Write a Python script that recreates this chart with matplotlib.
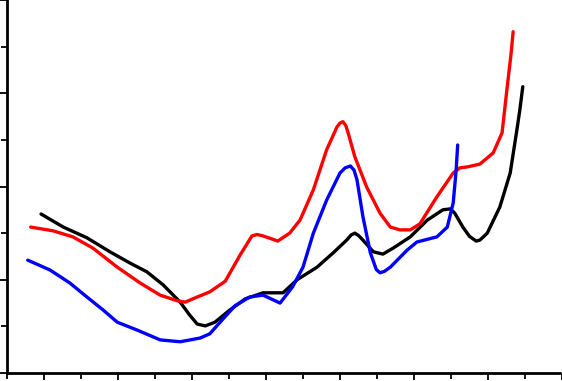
import numpy as np
import matplotlib
matplotlib.use('Agg')
import matplotlib.pyplot as plt
from matplotlib.ticker import MultipleLocator

# values (no axis labels, so arbitrary units)
black_x = [0.96, 1.26, 1.58, 1.89, 2.16, 2.39, 2.61, 2.84, 2.97, 3.07, 3.18, 3.31, 3.51, 3.72,
           3.96, 4.23, 4.42, 4.69, 4.91, 5.09, 5.15, 5.20, 5.25, 5.31, 5.45, 5.58, 5.72, 5.95,
           6.18, 6.39, 6.49, 6.55, 6.66, 6.75, 6.84, 6.89, 6.99, 7.16, 7.30, 7.39, 7.43, 7.47]
black_y = [3.41, 3.13, 2.90, 2.60, 2.36, 2.17, 1.89, 1.52, 1.24, 1.05, 1.01, 1.09, 1.35, 1.59,
           1.72, 1.72, 2.00, 2.27, 2.58, 2.85, 2.96, 3.00, 2.95, 2.85, 2.60, 2.55, 2.68, 2.92,
           3.28, 3.50, 3.52, 3.43, 3.13, 2.93, 2.83, 2.85, 3.00, 3.56, 4.29, 5.21, 5.64, 6.14]

red_x = [0.82, 1.12, 1.39, 1.66, 1.99, 2.30, 2.57, 2.80, 2.91, 3.01, 3.24, 3.45, 3.65, 3.81,
         3.88, 3.96, 4.16, 4.32, 4.46, 4.64, 4.82, 4.96, 5.00, 5.04, 5.08, 5.11, 5.20, 5.36,
         5.54, 5.68, 5.81, 5.95, 6.08, 6.31, 6.53, 6.62, 6.72, 6.89, 7.07, 7.19, 7.26, 7.31, 7.34]
red_y = [3.13, 3.05, 2.92, 2.68, 2.27, 1.93, 1.67, 1.55, 1.52, 1.59, 1.74, 1.97, 2.53, 2.94,
         2.97, 2.94, 2.83, 3.00, 3.28, 3.93, 4.79, 5.28, 5.36, 5.39, 5.30, 5.15, 4.64, 3.99,
         3.43, 3.13, 3.07, 3.07, 3.20, 3.78, 4.29, 4.40, 4.42, 4.48, 4.72, 5.15, 6.14, 6.82, 7.32]

blue_x = [0.78, 1.08, 1.35, 1.58, 1.80, 1.99, 2.26, 2.57, 2.84, 3.11, 3.24, 3.38, 3.58, 3.78,
          3.96, 4.19, 4.36, 4.50, 4.64, 4.82, 5.00, 5.07, 5.14, 5.19, 5.23, 5.31, 5.41, 5.49,
          5.54, 5.60, 5.68, 5.91, 6.04, 6.31, 6.45, 6.53, 6.57, 6.59]
blue_y = [2.42, 2.21, 1.93, 1.63, 1.35, 1.09, 0.92, 0.71, 0.67, 0.75, 0.84, 1.09, 1.44, 1.63,
          1.67, 1.50, 1.85, 2.27, 3.00, 3.71, 4.29, 4.40, 4.44, 4.35, 4.14, 3.35, 2.58, 2.22,
          2.15, 2.18, 2.27, 2.64, 2.81, 2.92, 3.13, 3.65, 4.36, 4.89]

fig = plt.figure(figsize=(5.62, 3.81), dpi=100)
ax = fig.add_axes([7 / 562, 8 / 381, 555 / 562, 373 / 381])

for xs, ys, c in [(black_x, black_y, 'black'), (red_x, red_y, 'red'), (blue_x, blue_y, 'blue')]:
    ax.plot(xs, ys, color=c, lw=2.4, solid_capstyle='round', solid_joinstyle='round')

ax.set_xlim(0.5, 8.0)
ax.set_ylim(0, 8.0)
ax.xaxis.set_major_locator(MultipleLocator(1))
ax.xaxis.set_minor_locator(MultipleLocator(0.5))
ax.yaxis.set_major_locator(MultipleLocator(2))
ax.yaxis.set_minor_locator(MultipleLocator(1))
ax.tick_params(which='major', length=5, width=1.3, labelleft=False, labelbottom=False)
ax.tick_params(which='minor', length=4, width=1.3)

for s in ['top', 'right']:
    ax.spines[s].set_visible(False)
for s in ['left', 'bottom']:
    ax.spines[s].set_linewidth(2)
    ax.spines[s].set_linestyle((0, (1, 1)))

fig.savefig('out.png', dpi=100)
